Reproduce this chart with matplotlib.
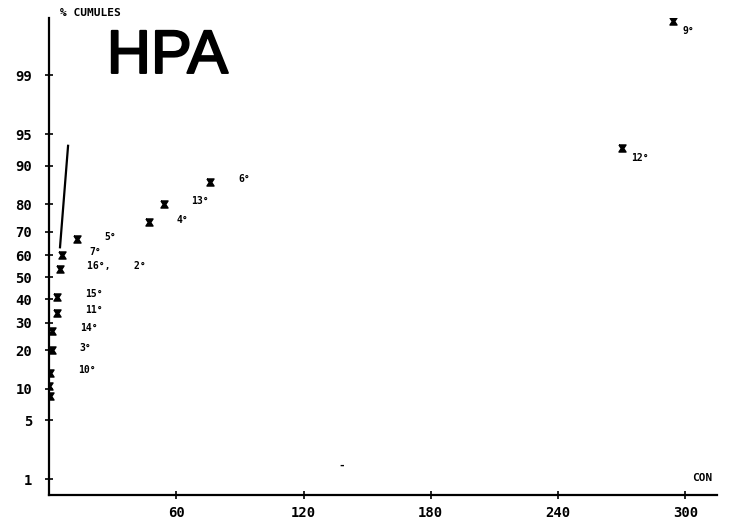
from statistics import NormalDist
import numpy as np
import matplotlib.pyplot as plt
import matplotlib.patheffects as pe

# cumulative percentages plotted on a normal probability scale
con = [294, 270, 76, 54, 47, 13, 6, 5, 4, 4, 1.4, 1.4, 0.5, 0.2, 0.4]
pct = [99.84, 93.1, 86.3, 80.2, 73.6, 66.9, 60, 53.7, 40.9, 34, 26.7, 20, 13.5, 10.5, 8.6]
names = ["9°", "12°", "6°", "13°", "4°", "5°", "7°", "16°,    2°", "15°", "11°", "14°", "3°", "10°", "", ""]

# fitted straight line
fit_con = [9.0, 5.2]
fit_pct = [93.5, 63.5]

yticks = [1, 5, 10, 20, 30, 40, 50, 60, 70, 80, 90, 95, 99]
xticks = [60, 120, 180, 240, 300]

_nd = NormalDist()
_ppf = np.vectorize(_nd.inv_cdf, otypes=[float])
_cdf = np.vectorize(_nd.cdf, otypes=[float])


def to_probit(p):
    p = np.clip(np.asarray(p, dtype=float) / 100.0, 1e-6, 1 - 1e-6)
    return _ppf(p)


def from_probit(z):
    return _cdf(np.asarray(z, dtype=float)) * 100.0


hourglass = [(-1, 1), (1, 1), (0.35, 0), (1, -1), (-1, -1), (-0.35, 0), (-1, 1)]

fig = plt.figure(figsize=(7.31, 5.22), dpi=100)
ax = fig.add_axes([0.067, 0.052, 0.914, 0.914])
ax.set_yscale('function', functions=(to_probit, from_probit))
ax.set_xlim(0, 315)
ax.set_ylim(0.61, 99.86)

ax.plot(fit_con, fit_pct, color='black', lw=1.6)
ax.scatter(con, pct, marker=hourglass, s=26, color='black', zorder=3)

for x, p, n in zip(con, pct, names):
    if not n:
        continue
    if x > 200:
        off = (7, -7)
    else:
        off = (20, 2)
    ax.annotate(n, (x, p), xytext=off, textcoords='offset points',
                ha='left', va='center', fontsize=7, fontweight='bold',
                family='DejaVu Sans Mono')

# stray plotter mark
ax.text(138, 1.5, '-', fontsize=8, fontweight='bold', ha='center', va='center')

for side in ['top', 'right']:
    ax.spines[side].set_visible(False)
for side in ['left', 'bottom']:
    ax.spines[side].set_linewidth(1.6)

ax.set_yticks(yticks)
ax.set_yticklabels([str(t) for t in yticks])
ax.set_xticks(xticks)
ax.set_xticklabels([str(t) for t in xticks])
ax.yaxis.set_minor_locator(plt.NullLocator())
ax.tick_params(axis='both', direction='inout', length=6, width=1.2, labelsize=10)
ax.tick_params(axis='y', pad=9)
ax.tick_params(axis='x', pad=5)
for lab in ax.get_xticklabels() + ax.get_yticklabels():
    lab.set_fontweight('bold')
    lab.set_family('DejaVu Sans Mono')

fig.text(0.082, 0.975, '% CUMULES', fontsize=8, fontweight='bold',
         family='DejaVu Sans Mono', va='center')
fig.text(0.229, 0.89, 'HPA', fontsize=44, family='Liberation Sans',
         ha='center', va='center',
         path_effects=[pe.withStroke(linewidth=1.5, foreground='black')])
fig.text(0.96, 0.084, 'CON', fontsize=8, fontweight='bold',
         family='DejaVu Sans Mono', ha='center', va='center')

fig.savefig('out.png', dpi=100)
